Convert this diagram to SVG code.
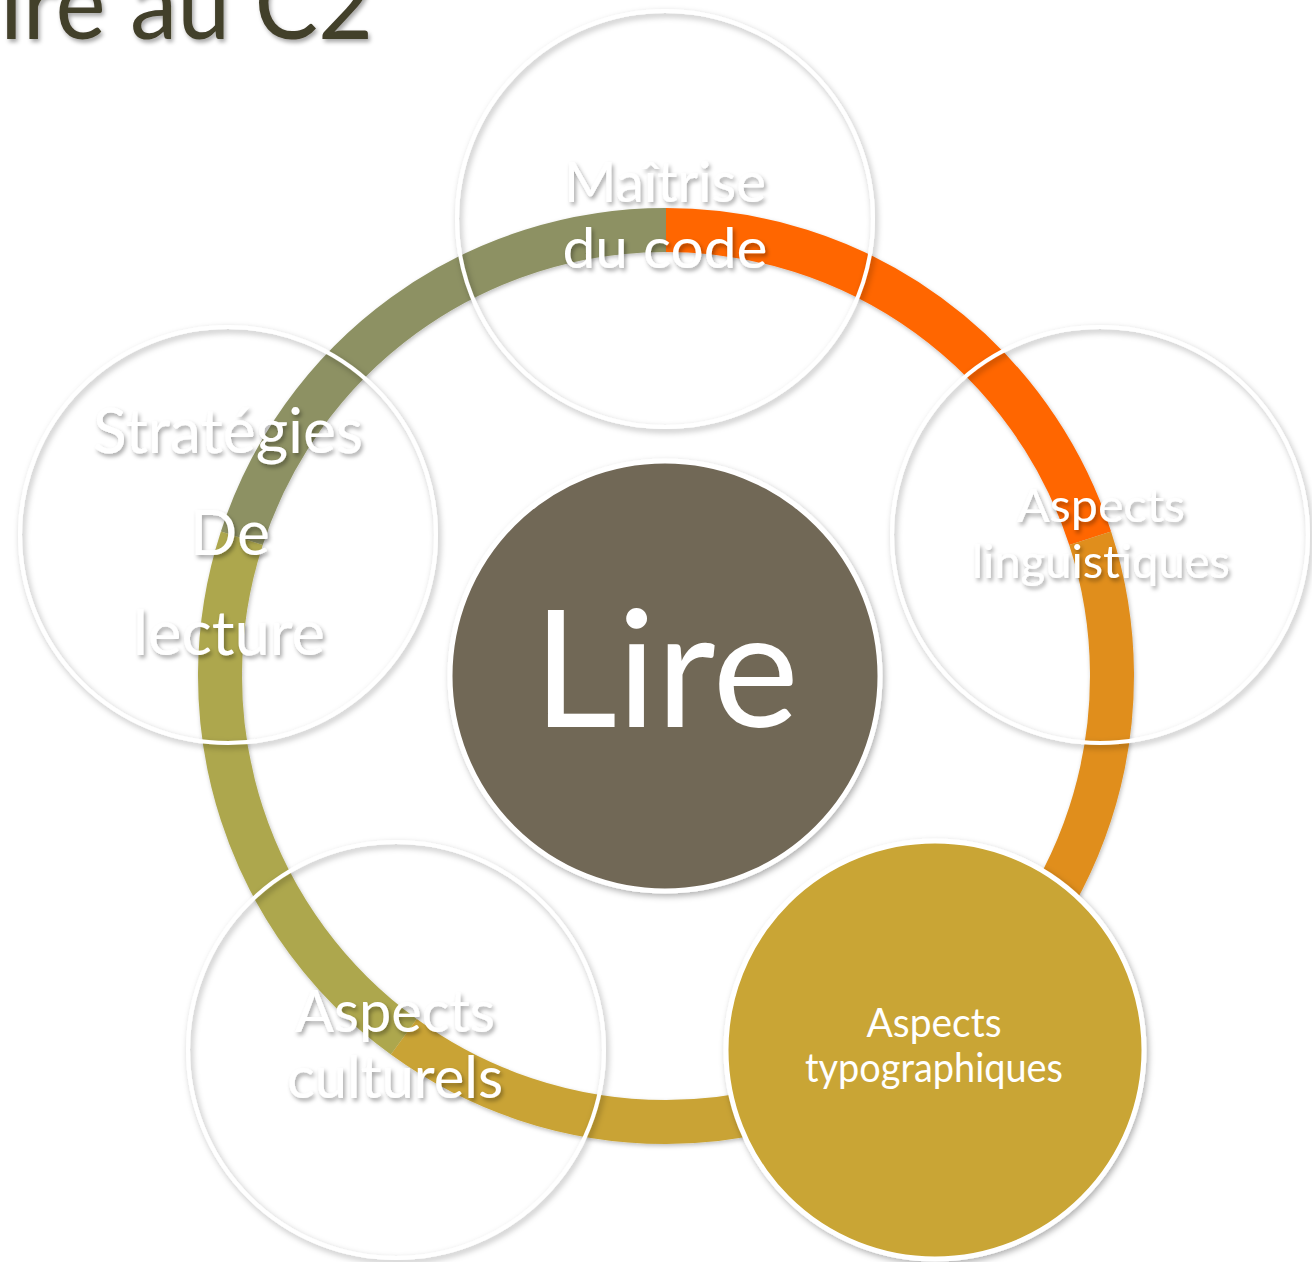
<svg xmlns="http://www.w3.org/2000/svg" width="1312" height="1262" viewBox="0 0 1312 1262">
<defs>
<filter id="tsh" x="-20%" y="-40%" width="140%" height="180%">
<feDropShadow dx="2" dy="3" stdDeviation="2.2" flood-color="#000" flood-opacity="0.35"/>
</filter>
<filter id="csh" x="-10%" y="-10%" width="120%" height="120%">
<feDropShadow dx="2" dy="3" stdDeviation="3" flood-color="#000" flood-opacity="0.3"/>
</filter>
<filter id="rsh" x="-10%" y="-10%" width="120%" height="120%">
<feDropShadow dx="1" dy="2" stdDeviation="2" flood-color="#000" flood-opacity="0.25"/>
</filter>
</defs>
<style>
.seg{fill:none;stroke-width:44;stroke-linecap:butt}
.ring{fill:none;stroke:#fff;stroke-width:4}
.lbl{font-family:Lato,"Liberation Sans",sans-serif;fill:#fff;text-anchor:middle}
.sh{filter:url(#tsh)}
</style>
<rect width="1312" height="1262" fill="#fff"/>
<text x="0" y="39" font-family="Lato,'Liberation Sans',sans-serif" font-size="100" fill="#433F2C" textLength="373" lengthAdjust="spacingAndGlyphs" filter="url(#tsh)">ire au C2</text>
<g id="connectors" filter="url(#rsh)">
<path class="seg" stroke="#8D9163" d="M241.83,538.18 A446,446 0 0 1 666,230"/>
<path class="seg" stroke="#FF6600" d="M666,230 A446,446 0 0 1 1090.17,538.18"/>
<path class="seg" stroke="#E08E1D" d="M1090.17,538.18 A446,446 0 0 1 928.15,1036.82"/>
<path class="seg" stroke="#ADA74E" d="M403.85,1036.82 A446,446 0 0 1 241.83,538.18"/>
<path class="seg" stroke="#C9A334" d="M928.15,1036.82 A446,446 0 0 1 403.85,1036.82"/>
</g>
<g id="node-maitrise">
<circle class="ring" cx="665" cy="219" r="208" filter="url(#csh)"/>
<text class="lbl sh" x="665" y="202" font-size="56" textLength="202" lengthAdjust="spacingAndGlyphs">Maîtrise</text>
<text class="lbl sh" x="665" y="268" font-size="56" textLength="205" lengthAdjust="spacingAndGlyphs">du code</text>
</g>
<g id="node-linguistiques">
<circle class="ring" cx="1100" cy="535" r="208" filter="url(#csh)"/>
<text class="lbl sh" x="1101" y="522" font-size="47" textLength="168" lengthAdjust="spacingAndGlyphs">Aspects</text>
<text class="lbl sh" x="1101" y="578" font-size="47" textLength="258" lengthAdjust="spacingAndGlyphs">linguistiques</text>
</g>
<g id="node-strategies">
<circle class="ring" cx="228" cy="535" r="208" filter="url(#csh)"/>
<text class="lbl sh" x="228" y="453" font-size="62" textLength="270" lengthAdjust="spacingAndGlyphs">Stratégies</text>
<text class="lbl sh" x="230" y="555" font-size="62" textLength="80" lengthAdjust="spacingAndGlyphs">De</text>
<text class="lbl sh" x="229" y="655" font-size="62" textLength="192" lengthAdjust="spacingAndGlyphs">lecture</text>
</g>
<g id="node-culturels">
<circle class="ring" cx="396" cy="1050" r="208" filter="url(#csh)"/>
<text class="lbl sh" x="395" y="1032" font-size="58" textLength="200" lengthAdjust="spacingAndGlyphs">Aspects</text>
<text class="lbl sh" x="395" y="1098" font-size="58" textLength="216" lengthAdjust="spacingAndGlyphs">culturels</text>
</g>
<g id="node-typographiques">
<circle cx="935" cy="1050" r="209" fill="#C9A534" stroke="#fff" stroke-width="5" filter="url(#csh)"/>
<text class="lbl" x="934" y="1037" font-size="40" textLength="135" lengthAdjust="spacingAndGlyphs">Aspects</text>
<text class="lbl" x="934" y="1082" font-size="40" textLength="258" lengthAdjust="spacingAndGlyphs">typographiques</text>
</g>
<g id="node-lire">
<circle cx="665" cy="676" r="215" fill="#716757" stroke="#fff" stroke-width="5" filter="url(#csh)"/>
<text class="lbl" x="666" y="727" font-size="163" textLength="266" lengthAdjust="spacingAndGlyphs">Lire</text>
</g>
</svg>
